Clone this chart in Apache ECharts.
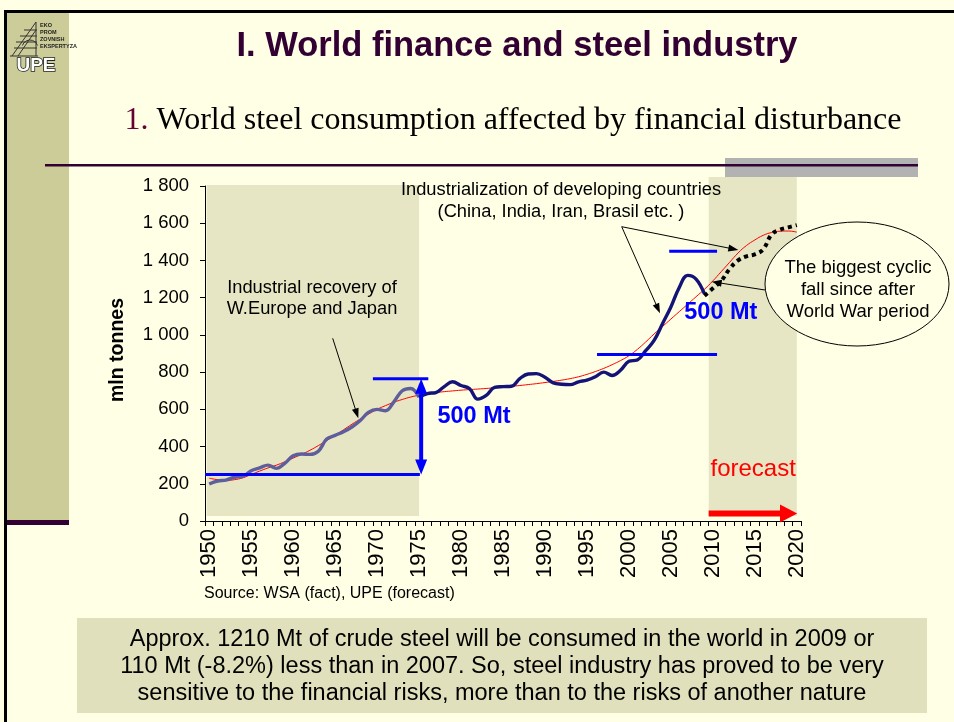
<!DOCTYPE html>
<html><head><meta charset="utf-8">
<script src="https://cdn.jsdelivr.net/npm/echarts@6/dist/echarts.min.js"></script>
<style>html,body{margin:0;padding:0;background:#FFFFE5;} #c{width:954px;height:722px;}</style>
</head><body><div id="c"></div>
<script>
// ---- data ----
const years = ['1950','1951','1952','1953','1954','1955','1956','1957','1958','1959',
  '1960','1961','1962','1963','1964','1965','1966','1967','1968','1969',
  '1970','1971','1972','1973','1974','1975','1976','1977','1978','1979',
  '1980','1981','1982','1983','1984','1985','1986','1987','1988','1989',
  '1990','1991','1992','1993','1994','1995','1996','1997','1998','1999',
  '2000','2001','2002','2003','2004','2005','2006','2007','2008','2009',
  '2010','2011','2012','2013','2014','2015','2016','2017','2018','2019','2020'];
// actual consumption 1950-2009 (mln t)
const actual = [199,215,220,235,240,270,285,300,283,310,
  350,360,358,375,440,460,480,505,540,585,
  600,592,640,700,712,665,685,690,722,748,
  728,712,655,675,718,722,724,765,790,792,
  772,742,735,733,748,757,775,800,782,810,
  858,865,915,970,1060,1150,1255,1320,1300,1220];
// forecast 2009-2020
const forecast = [1210,1250,1290,1355,1400,1422,1433,1460,1540,1565,1578,1590];
// long-term trend 1950-2020
const trend = [230,222,218,222,232,250,268,285,300,318,
  338,358,380,405,432,460,490,520,548,575,
  600,620,638,653,666,676,684,690,695,699,
  703,706,709,712,716,720,724,728,733,738,
  744,750,757,765,775,788,803,820,840,862,
  888,922,962,1005,1045,1085,1125,1165,1205,1245,
  1290,1340,1390,1440,1480,1510,1535,1550,1557,1558,1552];
const yTicks = {min:0, max:1800, step:200};

// build aligned arrays
const splitIdx = years.indexOf('1975');
const actualEarly = years.map((y,i)=> i <= splitIdx ? actual[i] : null);
const actualLate = years.map((y,i)=> (i >= splitIdx && i < actual.length) ? actual[i] : null);
const fStart = years.indexOf('2009');
const forecastFull = years.map((y,i)=> i >= fStart ? forecast[i-fStart] : null);

const SANS = '"Liberation Sans", Arial, sans-serif';
const SERIF = '"Liberation Serif", "Times New Roman", serif';

const chart = echarts.init(document.getElementById('c'), null, {renderer:'canvas'});
function fmt(v){ return v>=1000 ? Math.floor(v/1000)+' '+String(v%1000).padStart(3,'0') : String(v); }

chart.setOption({
  backgroundColor:'#FFFFE5',
  animation:false,
  grid:{left:205, right:153, top:186, bottom:201},
  xAxis:{type:'category', data:years, boundaryGap:true,
    axisLine:{lineStyle:{color:'#000', width:1}},
    axisTick:{show:true, interval:0, length:5, lineStyle:{color:'#000'}},
    axisLabel:{interval:4, rotate:90, margin:8, fontSize:22, color:'#000', fontFamily:SANS},
    splitLine:{show:false}},
  yAxis:{type:'value', min:yTicks.min, max:yTicks.max, interval:yTicks.step,
    axisLine:{show:true, lineStyle:{color:'#000', width:1}},
    axisTick:{show:true, length:5, lineStyle:{color:'#000'}},
    axisLabel:{formatter:fmt, fontSize:18.5, color:'#000', margin:16, fontFamily:SANS},
    splitLine:{show:false}},
  series:[
    {type:'line', data:trend, smooth:true, symbol:'none', z:3,
      lineStyle:{color:'#ff0000', width:1}},
    {type:'line', data:actualEarly, smooth:0.4, symbol:'none', z:4,
      lineStyle:{width:3.4, color:'#5e5e9c'}},
    {type:'line', data:actualLate, smooth:0.4, symbol:'none', z:4,
      lineStyle:{width:3.4, color:'#141478'}},
    {type:'line', data:forecastFull, smooth:0.4, symbol:'none', z:5,
      lineStyle:{color:'#000', width:4, type:[4,4], cap:'butt'}}
  ]
});

// helpers to place annotations through the chart's own scales
function X(i){ const a = chart.convertToPixel({xAxisIndex:0}, 0); const b = chart.convertToPixel({xAxisIndex:0}, 1); return a + i*(b-a); }
function Y(v){ return chart.convertToPixel({yAxisIndex:0}, v); }

function arrowHead(x1,y1,x2,y2,len,w,color){
  const ang = Math.atan2(y2-y1,x2-x1);
  const bx = x2 - len*Math.cos(ang), by = y2 - len*Math.sin(ang);
  const nx = -Math.sin(ang)*w/2, ny = Math.cos(ang)*w/2;
  return {type:'polygon', z:20, shape:{points:[[x2,y2],[bx+nx,by+ny],[bx-nx,by-ny]]}, style:{fill:color}};
}
function arrow(x1,y1,x2,y2,color,lw,len,w){
  const ang = Math.atan2(y2-y1,x2-x1);
  return [
    {type:'line', z:20, shape:{x1:x1,y1:y1,x2:x2-len*0.8*Math.cos(ang),y2:y2-len*0.8*Math.sin(ang)}, style:{stroke:color, lineWidth:lw}},
    arrowHead(x1,y1,x2,y2,len,w,color)
  ];
}
function txt(t,x,y,size,opts){
  return {type:'text', z:30, style:Object.assign({text:t, x:x, y:y, fontSize:size, fontFamily:SANS, fill:'#000', align:'center', verticalAlign:'middle'}, opts||{})};
}

const y0 = Y(0), yTop = Y(1800);
const g = [];
// frame & sidebar
g.push({type:'rect', z:-10, shape:{x:7,y:13,width:62,height:508}, style:{fill:'#CCCC99'}});
g.push({type:'rect', z:-9, shape:{x:7,y:520,width:62,height:5}, style:{fill:'#330033'}});
g.push({type:'rect', z:-8, shape:{x:4,y:10,width:950,height:3}, style:{fill:'#000'}});
g.push({type:'rect', z:-8, shape:{x:4,y:10,width:3,height:712}, style:{fill:'#000'}});
// logo
const logoC = '#333';
[[12,56,36,22],[18,56,36,30],[36,22,36,56],[14,48,37,48],[16,42,37,42],[20,36,37,36],[24,30,37,30],[10,56,38,56]].forEach(s=>{
  g.push({type:'line', z:-5, shape:{x1:s[0],y1:s[1],x2:s[2],y2:s[3]}, style:{stroke:logoC, lineWidth:1}});
});
g.push({type:'arc', z:-5, shape:{cx:30,cy:48,r:8,startAngle:Math.PI*1.1,endAngle:Math.PI*1.9}, style:{stroke:logoC, fill:null, lineWidth:1}});
['EKO','PROM','ZOVNISH','EKSPERTYZA'].forEach((t,i)=>{
  g.push({type:'text', z:-5, style:{text:t, x:40, y:25+i*7, fontSize:5.5, fontFamily:SANS, fontWeight:'bold', fill:'#222', align:'left', verticalAlign:'middle'}});
});
g.push({type:'text', z:-5, style:{text:'UPE', x:36, y:66, fontSize:19, fontWeight:'bold', fontFamily:SANS, fill:'#fff', stroke:'#222', lineWidth:1.6, align:'center', verticalAlign:'middle'}});

// titles
g.push(txt('I. World finance and steel industry', 517, 46, 34.5, {fontWeight:'bold', fill:'#330033'}));
g.push({type:'text', z:30, style:{text:'{a|1.} World steel consumption affected by financial disturbance', x:513, y:121, align:'center', verticalAlign:'middle',
  fontSize:32, fontFamily:SERIF, fill:'#000', rich:{a:{fontSize:32, fontFamily:SERIF, fill:'#660033'}}}});
// header rule & grey bar
g.push({type:'rect', z:-6, shape:{x:725,y:158,width:193,height:19}, style:{fill:'#B2B2B2'}});
g.push({type:'rect', z:-5, shape:{x:45,y:164,width:873,height:2.5}, style:{fill:'#330033'}});

// shaded regions
g.push({type:'rect', z:-4, shape:{x:X(-0.3), y:yTop-1, width:X(25)-X(-0.3), height:(y0-5)-(yTop-1)}, style:{fill:'#E6E6C4'}});
g.push({type:'rect', z:-4, shape:{x:X(59.5), y:177, width:X(70)-X(59.5), height:(y0-5)-177}, style:{fill:'#E6E6C4'}});

// blue 500 Mt markers
const blue = '#0000FF';
function hline(i1,i2,v){ g.push({type:'line', z:15, shape:{x1:X(i1),y1:Y(v),x2:X(i2),y2:Y(v)}, style:{stroke:blue, lineWidth:3}}); }
hline(-0.5, 25.1, 250);
hline(19.5, 26.1, 765);
hline(46.2, 60.5, 895);
hline(54.8, 60.5, 1450);
const vx = X(25.25);
g.push({type:'line', z:15, shape:{x1:vx,y1:Y(765)+12,x2:vx,y2:Y(250)-12}, style:{stroke:blue, lineWidth:4}});
g.push({type:'polygon', z:15, shape:{points:[[vx,Y(765)],[vx-6,Y(765)+15],[vx+6,Y(765)+15]]}, style:{fill:blue}});
g.push({type:'polygon', z:15, shape:{points:[[vx,Y(250)],[vx-6,Y(250)-15],[vx+6,Y(250)-15]]}, style:{fill:blue}});
g.push(txt('500 Mt', X(31.55), Y(560), 23.5, {fontWeight:'bold', fill:blue}));
g.push(txt('500 Mt', X(60.95), Y(1118), 23.5, {fontWeight:'bold', fill:blue}));

// forecast label and red arrow
g.push(txt('forecast', X(64.8), Y(275), 24, {fill:'#FF0000'}));
const ay = Y(0)-7.5;
g.push({type:'rect', z:15, shape:{x:X(59.5), y:ay-3, width:X(68.2)-X(59.5), height:6}, style:{fill:'#FF0000'}});
g.push({type:'polygon', z:15, shape:{points:[[X(70.05),ay],[X(68.0),ay-9],[X(68.0),ay+9]]}, style:{fill:'#FF0000'}});

// text annotations
g.push(txt('Industrial recovery of\nW.Europe and Japan', 312, 298, 18.3, {lineHeight:21}));
arrow(332.7,338.3,358.3,418.3,'#000',1,10,7).forEach(e=>g.push(e));
g.push(txt('Industrialization of developing countries\n(China, India, Iran, Brasil etc. )', 561, 201, 18.3, {lineHeight:22}));
arrow(621.7,226.7,660,313.3,'#000',1,10,7).forEach(e=>g.push(e));
arrow(621.7,226.7,738.3,250,'#000',1,10,7).forEach(e=>g.push(e));

// ellipse callout
g.push({type:'ellipse', z:18, shape:{cx:857,cy:284,rx:92,ry:62}, style:{fill:'#FFFFE5', stroke:'#000', lineWidth:1}});
g.push(txt('The biggest cyclic\nfall since after\nWorld War period', 858, 290, 18.5, {lineHeight:22}));
arrow(765,290,711.7,281.7,'#000',1,10,7).forEach(e=>g.push(e));

// y axis name, source
g.push({type:'text', z:30, rotation:Math.PI/2, x:118, y:350, style:{text:'mln tonnes', x:0, y:0, fontSize:19.5, fontWeight:'bold', fontFamily:SANS, fill:'#000', align:'center', verticalAlign:'middle'}});
g.push(txt('Source: WSA (fact), UPE (forecast)', 204, 594, 16, {align:'left'}));

// bottom box
g.push({type:'rect', z:-4, shape:{x:77,y:618,width:850,height:95}, style:{fill:'#E0E0BC'}});
g.push(txt('Approx. 1210 Mt of crude steel will be consumed in the world in 2009 or\n110 Mt (-8.2%) less than in 2007. So, steel industry has proved to be very\nsensitive to the financial risks, more than to the risks of another nature', 502, 667, 23.5, {lineHeight:27}));

chart.setOption({graphic:{elements:g}});
</script>
</body></html>
